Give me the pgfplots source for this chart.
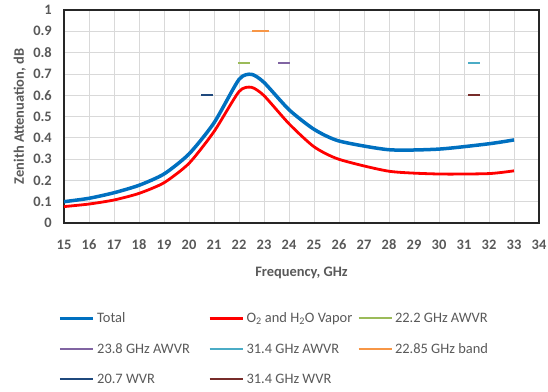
\documentclass[border=0pt]{standalone}
\usepackage{pgfplots}
\pgfplotsset{compat=1.18}
\usepackage{fontspec}
\setmainfont{Carlito}
\definecolor{tickgray}{HTML}{595959}
\definecolor{gridgray}{HTML}{D9D9D9}
\definecolor{cTotal}{HTML}{0070C0}
\definecolor{cVapor}{HTML}{FF0000}
\definecolor{cGreen}{HTML}{9BBB59}
\definecolor{cPurple}{HTML}{8064A2}
\definecolor{cTeal}{HTML}{4BACC6}
\definecolor{cOrange}{HTML}{F79646}
\definecolor{cNavy}{HTML}{1F497D}
\definecolor{cBrown}{HTML}{772C2A}
\newcommand{\LE}[1]{\makebox[111bp][l]{\rule[-4bp]{0pt}{14bp}#1}}
\begin{document}
\begin{tikzpicture}
\begin{axis}[
  at={(0,0)}, anchor=south west,
  scale only axis, width=475bp, height=213bp,
  xmin=15, xmax=34, ymin=0, ymax=1,
  xtick={15,16,...,34},
  ytick={0,0.1,0.2,0.3,0.4,0.5,0.6,0.7,0.8,0.9,1},
  /pgf/number format/assume math mode=true,
  grid=major,
  major grid style={gridgray, line width=0.8bp},
  major tick length=0pt,
  axis line style={black!85, line width=1.5bp},
  tick label style={font=\fontsize{14.5}{17}\selectfont\bfseries, text=tickgray},
  xticklabel style={anchor=center, inner sep=0pt, yshift=-22bp},
  yticklabel style={anchor=east, inner sep=0pt, xshift=-12bp,
    /pgf/number format/fixed, /pgf/number format/precision=1},
  xlabel={Frequency, GHz},
  ylabel={Zenith Attenuation, dB},
  label style={font=\fontsize{14.5}{17}\selectfont\bfseries, text=tickgray},
  xlabel style={at={(axis description cs:0.5,-0.232)}, anchor=center},
  ylabel style={at={(axis description cs:-0.093,0.5)}, anchor=center},
  legend columns=3,
  legend cell align=left,
  legend style={at={(axis description cs:-0.0126,-0.42)}, anchor=north west,
    draw=none, fill=none, font=\fontsize{14.5}{17}\selectfont, text=tickgray,
    /tikz/every odd column/.append style={column sep=2.5bp},
    /tikz/every even column/.append style={column sep=0bp},
    row sep=19bp, inner sep=0pt,
    nodes={inner sep=0pt}},
  legend image code/.code={\draw[#1] (0bp,0bp) -- (33bp,0bp);},
]
\addplot[cTotal, line width=3.5bp, smooth, tension=0.4] coordinates {
 (15,0.100) (16,0.116) (17,0.142) (18,0.177) (19,0.230) (20,0.324) (21,0.470)
 (22,0.674) (22.5,0.698) (23,0.660) (24,0.532) (25,0.440) (26,0.385)
 (28,0.344) (30,0.347) (32,0.372) (33,0.390)};
\addlegendentry{\LE{Total}}
\addplot[cVapor, line width=2.8bp, smooth, tension=0.4] coordinates {
 (15,0.077) (16,0.089) (17,0.108) (18,0.139) (19,0.189) (20,0.280) (21,0.429)
 (22,0.617) (22.5,0.637) (23,0.598) (24,0.466) (25,0.358) (26,0.299)
 (28,0.243) (30,0.230) (32,0.232) (33,0.245)};
\addlegendentry{\LE{O\textsubscript{2} and H\textsubscript{2}O Vapor}}
\addplot[cGreen, line width=2bp] coordinates {(21.96,0.75) (22.42,0.75)};
\addlegendentry{\LE{22.2 GHz AWVR}}
\addplot[cPurple, line width=2bp] coordinates {(23.56,0.75) (24.02,0.75)};
\addlegendentry{\LE{23.8 GHz AWVR}}
\addplot[cTeal, line width=2bp] coordinates {(31.16,0.75) (31.62,0.75)};
\addlegendentry{\LE{31.4 GHz AWVR}}
\addplot[cOrange, line width=2bp] coordinates {(22.52,0.9) (23.18,0.9)};
\addlegendentry{\LE{22.85 GHz band}}
\addplot[cNavy, line width=2bp] coordinates {(20.48,0.6) (20.94,0.6)};
\addlegendentry{\LE{20.7 WVR}}
\addplot[cBrown, line width=2bp] coordinates {(31.16,0.6) (31.62,0.6)};
\addlegendentry{\LE{31.4 GHz WVR}}
\end{axis}
\pgfresetboundingbox
\path[use as bounding box] (-64bp,-169bp) rectangle (484bp,223bp);
\end{tikzpicture}
\end{document}
